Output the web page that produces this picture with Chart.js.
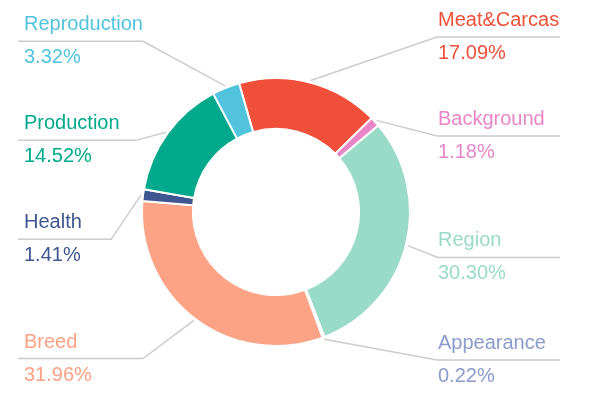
<!DOCTYPE html>
<html>
<head>
<meta charset="utf-8">
<script src="https://cdn.jsdelivr.net/npm/chart.js@4"></script>
<style>
  html, body { margin: 0; padding: 0; background: #fff; }
  #wrap { width: 600px; height: 397px; position: relative; }
</style>
</head>
<body>
<div id="wrap"><canvas id="pie-chart"></canvas></div>
<script>
let categories = ['Meat&Carcas', 'Background', 'Region', 'Appearance', 'Breed', 'Health', 'Production', 'Reproduction'];
let shares = [17.09, 1.18, 30.30, 0.22, 31.96, 1.41, 14.52, 3.32];
let colors = ['#f0503a', '#e886c6', '#9adbc8', '#8c9bcb', '#fca285', '#3f5690', '#00a98b', '#52c3dd'];

// draws the outside labels with the grey leader lines
let outsideLabels = {
  id: 'outsideLabels',
  afterDatasetsDraw(chart) {
    let ctx = chart.ctx;
    let meta = chart.getDatasetMeta(0);
    let items = [];
    meta.data.forEach((arc, i) => {
      let mid = (arc.startAngle + arc.endAngle) / 2;
      let r = arc.outerRadius + 2;
      items.push({
        i: i,
        right: Math.cos(mid) >= 0,
        sx: arc.x + Math.cos(mid) * r,
        sy: arc.y + Math.sin(mid) * r,
        y: arc.y + Math.sin(mid) * (arc.outerRadius + 50)
      });
    });

    let top = 37, bottom = 360, gap = 99;
    [true, false].forEach(side => {
      let list = items.filter(it => it.right === side).sort((a, b) => a.y - b.y);
      let prev = top - gap;
      list.forEach(it => {
        it.y = Math.max(it.y, prev + gap, top);
        prev = it.y;
      });
      let next = bottom + gap;
      for (let k = list.length - 1; k >= 0; k--) {
        list[k].y = Math.min(list[k].y, next - gap, bottom);
        next = list[k].y;
      }
    });

    ctx.save();
    items.forEach(it => {
      let elbow, end, tx;
      if (it.right) {
        elbow = Math.max(it.sx + 30, 437);
        end = 560;
        tx = 438;
      } else {
        elbow = Math.min(it.sx - 30, 143);
        end = 18;
        tx = 24;
      }
      ctx.strokeStyle = '#cccccc';
      ctx.lineWidth = 1.5;
      ctx.beginPath();
      ctx.moveTo(it.sx, it.sy);
      ctx.lineTo(elbow, it.y);
      ctx.lineTo(end, it.y);
      ctx.stroke();

      ctx.fillStyle = colors[it.i];
      ctx.font = '20px "Liberation Sans", Arial, sans-serif';
      ctx.textAlign = 'left';
      ctx.textBaseline = 'alphabetic';
      ctx.fillText(categories[it.i], tx, it.y - 11);
      ctx.fillText(shares[it.i].toFixed(2) + '%', tx, it.y + 22);
    });
    ctx.restore();
  }
};

let pieChart = new Chart(document.getElementById('pie-chart').getContext('2d'), {
  type: 'doughnut',
  data: {
    labels: categories,
    datasets: [{
      data: shares,
      backgroundColor: colors,
      borderColor: '#ffffff',
      borderWidth: 2
    }]
  },
  options: {
    responsive: true,
    maintainAspectRatio: false,
    animation: false,
    cutout: '62%',
    rotation: -16,
    layout: {
      padding: { left: 141, right: 189, top: 77, bottom: 50 }
    },
    plugins: {
      legend: { display: false },
      tooltip: { enabled: false }
    }
  },
  plugins: [outsideLabels]
});
</script>
</body>
</html>
